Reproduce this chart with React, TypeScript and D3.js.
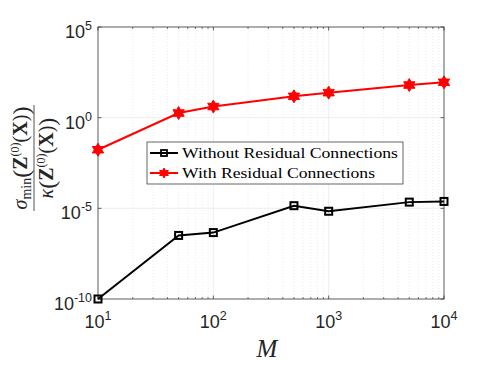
import React from 'react';
import * as d3 from 'd3';

const mValues = [10, 50, 100, 500, 1000, 5000, 10000];
const withoutResidual = [1e-10, 3.2e-7, 4.6e-7, 1.4e-5, 6.9e-6, 2.2e-5, 2.4e-5];
const withResidual = [0.017, 1.8, 4.1, 15, 24, 63, 89];
const xTickExps = [1, 2, 3, 4];
const yTickExps = [-10, -5, 0, 5];
const legendLabels = ['Without Residual Connections', 'With Residual Connections'];

const W = 491, H = 368;
const L = 98, R = 444, T = 27, B = 299;
const axisColor = '#262626';

function hexagram(cx: number, cy: number, r: number) {
  const pts: string[] = [];
  for (let i = 0; i < 12; i++) {
    const rr = i % 2 === 0 ? r : r / Math.sqrt(3);
    const a = -Math.PI / 2 + (i * Math.PI) / 6;
    pts.push(`${cx + rr * Math.cos(a)},${cy + rr * Math.sin(a)}`);
  }
  return 'M' + pts.join('L') + 'Z';
}

export default function App() {
  const x = d3.scaleLog().domain([10, 1e4]).range([L, R]);
  const y = d3.scaleLog().domain([1e-10, 1e5]).range([B, T]);
  const minorX: number[] = [];
  for (const dec of [10, 100, 1000]) for (let k = 2; k <= 9; k++) minorX.push(dec * k);
  const mk = d3.line<number>().x((d, i) => x(mValues[i])).y(d => y(d));
  const lineWo = mk(withoutResidual) || '';
  const lineW = mk(withResidual) || '';
  const sans = 'Liberation Sans, Arial, sans-serif';
  const serif = 'Liberation Serif, Times New Roman, serif';
  const lgX = 147, lgY = 142, lgW = 256, lgH = 42;
  return (
    <svg width={W} height={H} style={{ position: 'absolute', left: 0, top: 0 }} xmlns="http://www.w3.org/2000/svg">
      <rect x={0} y={0} width={W} height={H} fill="#fff" />
      {minorX.map(v => (
        <line key={'mg' + v} x1={x(v)} x2={x(v)} y1={T} y2={B} stroke="#dcdcdc" strokeWidth={0.6} strokeDasharray="1,2" />
      ))}
      {xTickExps.map(e => (
        <line key={'gx' + e} x1={x(10 ** e)} x2={x(10 ** e)} y1={T} y2={B} stroke="#e3e3e3" strokeWidth={0.6} />
      ))}
      {yTickExps.map(e => (
        <line key={'gy' + e} x1={L} x2={R} y1={y(10 ** e)} y2={y(10 ** e)} stroke="#e3e3e3" strokeWidth={0.6} />
      ))}
      <rect x={L} y={T} width={R - L} height={B - T} fill="none" stroke={axisColor} strokeWidth={0.7} />
      {xTickExps.map(e => (
        <g key={'tx' + e}>
          <line x1={x(10 ** e)} x2={x(10 ** e)} y1={B} y2={B - 3.5} stroke={axisColor} strokeWidth={0.7} />
          <line x1={x(10 ** e)} x2={x(10 ** e)} y1={T} y2={T + 3.5} stroke={axisColor} strokeWidth={0.7} />
        </g>
      ))}
      {minorX.map(v => (
        <g key={'mt' + v}>
          <line x1={x(v)} x2={x(v)} y1={B} y2={B - 2} stroke={axisColor} strokeWidth={0.6} />
          <line x1={x(v)} x2={x(v)} y1={T} y2={T + 2} stroke={axisColor} strokeWidth={0.6} />
        </g>
      ))}
      {yTickExps.map(e => (
        <g key={'ty' + e}>
          <line x1={L} x2={L + 3.5} y1={y(10 ** e)} y2={y(10 ** e)} stroke={axisColor} strokeWidth={0.7} />
          <line x1={R} x2={R - 3.5} y1={y(10 ** e)} y2={y(10 ** e)} stroke={axisColor} strokeWidth={0.7} />
        </g>
      ))}
      {xTickExps.map(e => (
        <text key={'lx' + e} x={x(10 ** e)} y={328} textAnchor="middle" fontFamily={sans} fontSize={18} fill={axisColor}>
          <tspan>10</tspan>
          <tspan dy={-8} fontSize={12.5}>{e}</tspan>
        </text>
      ))}
      {yTickExps.map(e => (
        <text key={'ly' + e} x={92} y={y(10 ** e) + 11} textAnchor="end" fontFamily={sans} fontSize={18} fill={axisColor}>
          <tspan>10</tspan>
          <tspan dy={-8} fontSize={12.5}>{e}</tspan>
        </text>
      ))}
      <text x={267} y={357} textAnchor="middle" fontFamily={serif} fontStyle="italic" fontSize={25} fill={axisColor}>M</text>
      <g transform="translate(34,158) rotate(-90)" fontFamily={serif} fill={axisColor}>
        <line x1={-53} x2={53} y1={0} y2={0} stroke={axisColor} strokeWidth={0.8} />
        <text x={0} y={-7} textAnchor="middle" fontSize={20}>
          <tspan fontStyle="italic">σ</tspan>
          <tspan fontSize={14} dy={4}>min</tspan>
          <tspan dy={-2} fontSize={24}>(</tspan>
          <tspan dy={-2} fontWeight="bold">Z</tspan>
          <tspan fontSize={12} dy={-8}>(0)</tspan>
          <tspan dy={8}>(</tspan>
          <tspan fontWeight="bold">X</tspan>
          <tspan>)</tspan>
          <tspan dy={2} fontSize={24}>)</tspan>
        </text>
        <text x={0} y={19} textAnchor="middle" fontSize={20}>
          <tspan fontStyle="italic">κ</tspan>
          <tspan dy={2} fontSize={24}>(</tspan>
          <tspan dy={-2} fontWeight="bold">Z</tspan>
          <tspan fontSize={12} dy={-8}>(0)</tspan>
          <tspan dy={8}>(</tspan>
          <tspan fontWeight="bold">X</tspan>
          <tspan>)</tspan>
          <tspan dy={2} fontSize={24}>)</tspan>
        </text>
      </g>
      <path d={lineWo} fill="none" stroke="#000" strokeWidth={2} />
      {withoutResidual.map((v, i) => (
        <rect key={'sq' + i} x={x(mValues[i]) - 3.5} y={y(v) - 3.5} width={7} height={7} fill="none" stroke="#000" strokeWidth={2} />
      ))}
      <path d={lineW} fill="none" stroke="#ff0000" strokeWidth={2} />
      {withResidual.map((v, i) => (
        <path key={'hx' + i} d={hexagram(x(mValues[i]), y(v), 6.5)} fill="#ff0000" stroke="#ff0000" strokeWidth={1} />
      ))}
      <rect x={lgX} y={lgY} width={lgW} height={lgH} fill="#fff" stroke="#262626" strokeWidth={0.7} />
      <line x1={150} x2={178} y1={153} y2={153} stroke="#000" strokeWidth={2} />
      <rect x={164 - 3} y={153 - 3} width={6} height={6} fill="none" stroke="#000" strokeWidth={1.8} />
      <text x={182} y={158} fontFamily={serif} fontSize={15.5} fill="#000" textLength={216} lengthAdjust="spacingAndGlyphs">{legendLabels[0]}</text>
      <line x1={150} x2={178} y1={173} y2={173} stroke="#ff0000" strokeWidth={2} />
      <path d={hexagram(164, 173, 5)} fill="#ff0000" stroke="#ff0000" strokeWidth={1} />
      <text x={182} y={178} fontFamily={serif} fontSize={15.5} fill="#000" textLength={193} lengthAdjust="spacingAndGlyphs">{legendLabels[1]}</text>
    </svg>
  );
}
